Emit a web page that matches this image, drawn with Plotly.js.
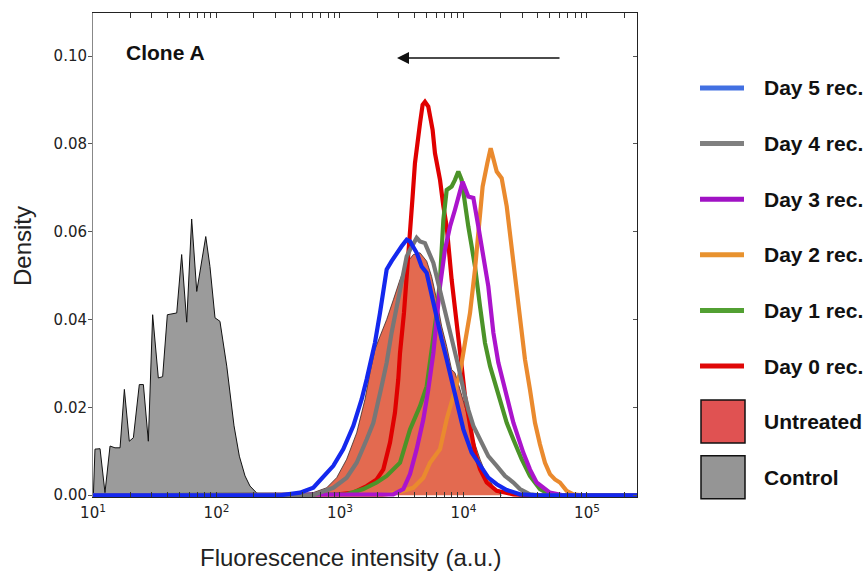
<!DOCTYPE html>
<html><head><meta charset="utf-8">
<script src="https://cdn.plot.ly/plotly-3.0.1.min.js"></script>
<style>html,body{margin:0;padding:0;background:#fff}#chart{width:868px;height:571px}</style>
</head><body><div id="chart"></div>
<script>
// ---- data (x given as log10 of fluorescence intensity, y = density) ----
const seriesNames = ['Day 5 rec.','Day 4 rec.','Day 3 rec.','Day 2 rec.','Day 1 rec.','Day 0 rec.','Untreated','Control'];
const xTickVals = [10, 100, 1000, 10000, 100000];
const xTickText = ['10<sup>1</sup>','10<sup>2</sup>','10<sup>3</sup>','10<sup>4</sup>','10<sup>5</sup>'];
const yTickVals = [0, 0.02, 0.04, 0.06, 0.08, 0.10];

const controlLogX = [1.000,1.003,1.016,1.057,1.097,1.138,1.178,1.219,1.254,1.294,1.327,1.375,1.408,1.448,1.483,1.529,1.564,1.602,1.678,1.718,1.759,1.799,1.840,1.880,1.913,1.947,1.988,2.028,2.083,2.142,2.185,2.231,2.271,2.326,2.366];
const controlDensity = [0,0,0.0105,0.0106,0.0006,0.0112,0.0108,0.0108,0.0241,0.0123,0.0131,0.0252,0.0252,0.0123,0.0411,0.0267,0.0270,0.0411,0.0415,0.0548,0.0394,0.0629,0.0464,0.0533,0.0589,0.0521,0.0404,0.0396,0.0294,0.0158,0.0089,0.0044,0.0021,0.0005,0];

const untreatedLogX = [2.55,2.676,2.784,2.892,2.973,3.054,3.135,3.202,3.243,3.283,3.324,3.378,3.432,3.486,3.540,3.594,3.648,3.702,3.742,3.783,3.823,3.864,3.904,3.931,3.972,4.026,4.080,4.134,4.188,4.255,4.309];
const untreatedDensity = [0,0.0002,0.0006,0.0017,0.004,0.0082,0.0142,0.0218,0.0279,0.0332,0.0362,0.04,0.0445,0.0491,0.0529,0.0548,0.0552,0.0533,0.0498,0.0445,0.0385,0.0339,0.0286,0.0279,0.0241,0.0188,0.0127,0.0082,0.0044,0.0014,0];

const day0LogX = [1.0,2.919,3.108,3.216,3.297,3.351,3.405,3.445,3.472,3.486,3.518,3.540,3.567,3.588,3.607,3.621,3.648,3.669,3.688,3.715,3.750,3.769,3.810,3.837,3.864,3.904,3.931,3.958,3.985,4.012,4.066,4.093,4.134,4.188,4.269,4.404,4.538,5.405];
const day0Density = [0,0,0.0006,0.0021,0.0036,0.0059,0.012,0.0188,0.0264,0.0324,0.0415,0.0491,0.0582,0.068,0.0756,0.0794,0.0847,0.0889,0.0896,0.0885,0.0832,0.0779,0.0718,0.0658,0.0612,0.0491,0.043,0.0362,0.0294,0.0226,0.0142,0.0097,0.0059,0.0029,0.001,0.0002,0,0];

const day1LogX = [1.0,3.054,3.189,3.297,3.378,3.486,3.567,3.648,3.702,3.756,3.783,3.810,3.837,3.864,3.904,3.931,3.958,3.985,4.012,4.039,4.066,4.093,4.134,4.174,4.215,4.255,4.296,4.350,4.404,4.471,4.538,4.619,4.700,4.781,5.405];
const day1Density = [0,0.0002,0.0014,0.0029,0.0044,0.0074,0.015,0.0203,0.0248,0.0355,0.0415,0.0491,0.0627,0.0695,0.0703,0.0718,0.0737,0.0718,0.0658,0.0612,0.0567,0.0521,0.043,0.0347,0.0294,0.0256,0.0211,0.0165,0.0127,0.0082,0.0044,0.0014,0.0002,0,0];

const day2LogX = [1.0,3.324,3.459,3.594,3.675,3.729,3.810,3.864,3.918,3.972,4.012,4.053,4.093,4.134,4.155,4.193,4.220,4.269,4.309,4.350,4.390,4.417,4.444,4.471,4.498,4.538,4.579,4.619,4.660,4.700,4.741,4.781,4.835,4.889,4.970,5.405];
const day2Density = [0,0,0.0006,0.0017,0.004,0.0074,0.0105,0.0173,0.0226,0.0279,0.0347,0.0415,0.0514,0.0635,0.0703,0.0756,0.079,0.0737,0.0722,0.0658,0.0567,0.0491,0.043,0.037,0.0309,0.0241,0.0165,0.0116,0.0074,0.0048,0.0036,0.0029,0.001,0.0002,0,0];

const day3LogX = [1.0,3.324,3.432,3.513,3.567,3.621,3.675,3.715,3.756,3.783,3.810,3.850,3.891,3.931,3.972,3.993,4.039,4.080,4.120,4.161,4.201,4.242,4.282,4.323,4.363,4.404,4.484,4.538,4.592,4.700,4.808,5.405];
const day3Density = [0,0,0.0002,0.0014,0.0048,0.0105,0.0173,0.0241,0.0324,0.04,0.0476,0.0559,0.0612,0.065,0.0695,0.0714,0.068,0.0677,0.0612,0.0544,0.0476,0.037,0.0302,0.0256,0.0211,0.0165,0.0097,0.0059,0.0029,0.0006,0,0];

const day4LogX = [1.0,2.784,2.838,2.946,3.054,3.135,3.216,3.270,3.337,3.378,3.418,3.459,3.499,3.540,3.567,3.621,3.648,3.688,3.756,3.783,3.837,3.877,3.918,3.958,3.999,4.039,4.080,4.134,4.201,4.269,4.336,4.404,4.457,4.538,4.619,5.405];
const day4Density = [0,0,0.0006,0.0017,0.004,0.0074,0.0127,0.0165,0.0248,0.0302,0.037,0.043,0.0491,0.0544,0.0559,0.0586,0.0578,0.0574,0.0529,0.0498,0.0438,0.0385,0.0339,0.0294,0.0241,0.0195,0.0158,0.0127,0.0089,0.0067,0.0044,0.0029,0.0014,0.0002,0,0];

const day5LogX = [1.0,2.514,2.676,2.784,2.946,3.027,3.108,3.175,3.216,3.256,3.283,3.324,3.351,3.378,3.418,3.459,3.499,3.540,3.567,3.621,3.661,3.702,3.742,3.783,3.823,3.864,3.904,3.945,3.999,4.066,4.134,4.201,4.269,4.350,4.457,4.619,5.405];
const day5Density = [0,0,0.0006,0.0017,0.0067,0.0105,0.0158,0.0218,0.0264,0.0309,0.0347,0.0415,0.0468,0.0514,0.0533,0.0552,0.0567,0.0582,0.0578,0.0552,0.0521,0.0506,0.0453,0.04,0.0355,0.0309,0.0264,0.0218,0.015,0.0097,0.0067,0.004,0.0025,0.0012,0.0002,0,0];

// ---- styles ----
const lineColors = {day5:'#1428ee', day4:'#777777', day3:'#ab14cc', day2:'#ea8a2e', day1:'#4b9328', day0:'#e00000'};
const legendColors = ['#4270e2','#808080','#a012c4','#e8922e','#52a032','#e00808','#e05252','#959595'];
const untreatedFill = '#e36a50';
const controlFill = '#9b9b9b';

const pow10 = a => a.map(v => Math.pow(10, v));
const lineTrace = (lx, dy, col, name) => ({
  type:'scatter', mode:'lines', x: pow10(lx), y: dy, name: name,
  line:{color:col, width:4.2}, showlegend:false, hoverinfo:'skip'
});

const traces = [
  {type:'scatter', mode:'lines', x: pow10(controlLogX), y: controlDensity, name:'Control',
   fill:'tozeroy', fillcolor: controlFill, line:{color:'#111', width:1}, showlegend:false, hoverinfo:'skip'},
  {type:'scatter', mode:'lines', x: pow10(untreatedLogX), y: untreatedDensity, name:'Untreated',
   fill:'tozeroy', fillcolor: untreatedFill, line:{color:'#3a2a2a', width:0.8}, showlegend:false, hoverinfo:'skip'},
  lineTrace(day0LogX, day0Density, lineColors.day0, 'Day 0 rec.'),
  lineTrace(day1LogX, day1Density, lineColors.day1, 'Day 1 rec.'),
  lineTrace(day2LogX, day2Density, lineColors.day2, 'Day 2 rec.'),
  lineTrace(day3LogX, day3Density, lineColors.day3, 'Day 3 rec.'),
  lineTrace(day4LogX, day4Density, lineColors.day4, 'Day 4 rec.'),
  lineTrace(day5LogX, day5Density, lineColors.day5, 'Day 5 rec.'),
  {type:'scatter', mode:'lines', x:[10], y:[0], yaxis:'y2', showlegend:false, hoverinfo:'skip', line:{width:0}}
];

// ---- layout helpers (pixel -> paper) ----
const L = 93, R = 637, T = 13, B = 497;
const px2x = p => (p - L) / (R - L);
const px2y = p => (B - p) / (B - T);

const shapes = [];
const annotations = [];
const legendTop = 88, legendStep = 55.6;
seriesNames.forEach((nm, i) => {
  const yc = legendTop + i * legendStep;
  if (i < 6) {
    shapes.push({type:'line', xref:'paper', yref:'paper', x0:px2x(700), x1:px2x(744), y0:px2y(yc), y1:px2y(yc),
      line:{color:legendColors[i], width:5}});
  } else {
    shapes.push({type:'rect', xref:'paper', yref:'paper', x0:px2x(701), x1:px2x(745), y0:px2y(yc-21.5), y1:px2y(yc+21.5),
      fillcolor:legendColors[i], line:{color:'#111', width:1.5}});
  }
  annotations.push({xref:'paper', yref:'paper', x:px2x(762), y:px2y(yc), xanchor:'left', yanchor:'middle',
    text:'<b>'+nm+'</b>', showarrow:false, font:{family:'Liberation Sans, Arial, sans-serif', size:21, color:'#111'}});
});
annotations.push({xref:'paper', yref:'paper', x:px2x(124), y:px2y(52), xanchor:'left', yanchor:'middle',
  text:'<b>Clone A</b>', showarrow:false, font:{family:'Liberation Sans, Arial, sans-serif', size:21, color:'#111'}});
annotations.push({xref:'paper', yref:'paper', x:px2x(350), y:px2y(557), xanchor:'center', yanchor:'middle',
  text:'Fluorescence intensity (a.u.)', showarrow:false, font:{family:'Liberation Sans, Arial, sans-serif', size:24, color:'#222'}});
annotations.push({xref:'paper', yref:'paper', x:px2x(22), y:px2y(246), xanchor:'center', yanchor:'middle', textangle:-90,
  text:'Density', showarrow:false, font:{family:'Liberation Sans, Arial, sans-serif', size:24, color:'#222'}});
annotations.push({xref:'paper', yref:'paper', x:px2x(397), y:px2y(58), ax:164, ay:0, axref:'pixel', ayref:'pixel',
  text:'', showarrow:true, arrowhead:2, arrowsize:1.6, arrowwidth:1.5, arrowcolor:'#111'});

const tickFont = {family:'DejaVu Sans, sans-serif', size:15, color:'#222'};
const layout = {
  width:868, height:571,
  margin:{l:L, r:868-R, t:T, b:571-B, pad:0},
  paper_bgcolor:'#fff', plot_bgcolor:'#fff',
  showlegend:false,
  xaxis:{type:'log', range:[1, 5.405], showgrid:false, zeroline:false,
    showline:true, linecolor:'#222', linewidth:1, mirror:'allticks',
    tickmode:'array', tickvals:xTickVals, ticktext:xTickText,
    ticks:'inside', ticklen:5, tickcolor:'#333', tickwidth:1, tickfont:tickFont, ticklabelstandoff:2,
    minor:{ticks:'inside', ticklen:3, tickcolor:'#333', dtick:'D1', showgrid:false}},
  yaxis:{range:[-0.0004, 0.1098], showgrid:false, zeroline:false,
    showline:true, linecolor:'#888', linewidth:1,
    tickmode:'array', tickvals:yTickVals, tickformat:'.2f',
    ticks:'outside', ticklen:4, tickcolor:'#555', tickfont:tickFont, ticklabelstandoff:-2},
  yaxis2:{overlaying:'y', side:'right', range:[-0.0004, 0.1098], showgrid:false, zeroline:false,
    showline:true, linecolor:'#222', linewidth:1,
    tickmode:'array', tickvals:yTickVals, showticklabels:false,
    ticks:'inside', ticklen:4, tickcolor:'#555'},
  shapes:shapes, annotations:annotations
};
Plotly.newPlot('chart', traces, layout, {staticPlot:true, displayModeBar:false});
</script></body></html>
